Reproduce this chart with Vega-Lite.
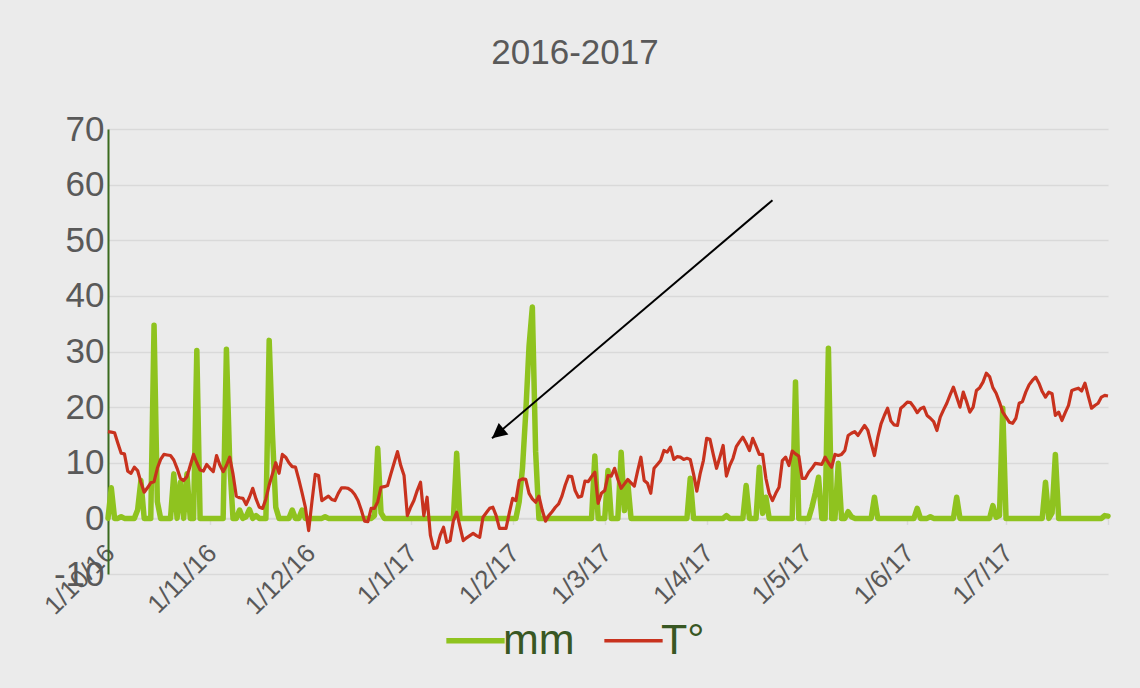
{
"$schema":"https://vega.github.io/schema/vega-lite/v6.json",
"width":1000,"height":445,"autosize":"none",
"padding":{"left":108,"top":129,"right":32,"bottom":114},
"background":"#EBEBEB",
"title":{"text":"2016-2017","font":"Liberation Sans","fontSize":35,"fontWeight":"normal","color":"#595959","anchor":"middle","frame":"group","dx":-33,"offset":6,"baseline":"bottom"},
"config":{"view":{"stroke":null}},
"datasets":{
"daily":[
{"d":"2016-10-01","mm":0,"T":15.6},{"d":"2016-10-02","mm":5.5,"T":15.5},{"d":"2016-10-03","mm":0,"T":15.4},{"d":"2016-10-04","mm":0,"T":13.5},{"d":"2016-10-05","mm":0.3,"T":11.7},{"d":"2016-10-06","mm":0,"T":11.6},{"d":"2016-10-07","mm":0,"T":8.5},{"d":"2016-10-08","mm":0,"T":8.1},{"d":"2016-10-09","mm":0,"T":9.2},{"d":"2016-10-10","mm":1.5,"T":8.6},{"d":"2016-10-11","mm":6.8,"T":6.5},{"d":"2016-10-12","mm":0,"T":4.7},{"d":"2016-10-13","mm":0,"T":5.5},{"d":"2016-10-14","mm":0,"T":6.4},{"d":"2016-10-15","mm":34.7,"T":6.6},{"d":"2016-10-16","mm":3,"T":9},{"d":"2016-10-17","mm":0,"T":10.6},{"d":"2016-10-18","mm":0,"T":11.5},{"d":"2016-10-19","mm":0,"T":11.4},{"d":"2016-10-20","mm":0,"T":11.3},{"d":"2016-10-21","mm":8,"T":10.5},{"d":"2016-10-22","mm":0,"T":9},{"d":"2016-10-23","mm":6.5,"T":7.2},{"d":"2016-10-24","mm":0,"T":6.8},{"d":"2016-10-25","mm":8,"T":7.5},{"d":"2016-10-26","mm":0,"T":9.5},{"d":"2016-10-27","mm":0,"T":11.5},{"d":"2016-10-28","mm":30.2,"T":10},{"d":"2016-10-29","mm":0,"T":8.7},{"d":"2016-10-30","mm":0,"T":8.5},{"d":"2016-10-31","mm":0,"T":9.7},
{"d":"2016-11-01","mm":0,"T":9},{"d":"2016-11-02","mm":0,"T":8.4},{"d":"2016-11-03","mm":0,"T":11.3},{"d":"2016-11-04","mm":0,"T":9.6},{"d":"2016-11-05","mm":0,"T":8.4},{"d":"2016-11-06","mm":30.4,"T":9.5},{"d":"2016-11-07","mm":10,"T":11},{"d":"2016-11-08","mm":0,"T":8},{"d":"2016-11-09","mm":0,"T":4},{"d":"2016-11-10","mm":1.5,"T":3.7},{"d":"2016-11-11","mm":0,"T":3.6},{"d":"2016-11-12","mm":0.3,"T":2.5},{"d":"2016-11-13","mm":1.6,"T":3.8},{"d":"2016-11-14","mm":0,"T":5.4},{"d":"2016-11-15","mm":0.5,"T":3.5},{"d":"2016-11-16","mm":0,"T":2},{"d":"2016-11-17","mm":0,"T":1.8},{"d":"2016-11-18","mm":0,"T":3.5},{"d":"2016-11-19","mm":32,"T":6},{"d":"2016-11-20","mm":15,"T":8},{"d":"2016-11-21","mm":2,"T":10},{"d":"2016-11-22","mm":0,"T":8.1},{"d":"2016-11-23","mm":0,"T":11.5},{"d":"2016-11-24","mm":0,"T":11},{"d":"2016-11-25","mm":0,"T":10},{"d":"2016-11-26","mm":1.5,"T":9.3},{"d":"2016-11-27","mm":0,"T":9.2},{"d":"2016-11-28","mm":0,"T":7},{"d":"2016-11-29","mm":1.5,"T":4.6},{"d":"2016-11-30","mm":0,"T":2},
{"d":"2016-12-01","mm":0,"T":-2.2},{"d":"2016-12-02","mm":0,"T":3},{"d":"2016-12-03","mm":0,"T":7.9},{"d":"2016-12-04","mm":0,"T":7.7},{"d":"2016-12-05","mm":0,"T":3.2},{"d":"2016-12-06","mm":0.3,"T":3.6},{"d":"2016-12-07","mm":0,"T":4},{"d":"2016-12-08","mm":0,"T":3.4},{"d":"2016-12-09","mm":0,"T":3.2},{"d":"2016-12-10","mm":0,"T":4.5},{"d":"2016-12-11","mm":0,"T":5.5},{"d":"2016-12-12","mm":0,"T":5.5},{"d":"2016-12-13","mm":0,"T":5.4},{"d":"2016-12-14","mm":0,"T":5},{"d":"2016-12-15","mm":0,"T":4.3},{"d":"2016-12-16","mm":0,"T":3.2},{"d":"2016-12-17","mm":0,"T":1.5},{"d":"2016-12-18","mm":0,"T":-0.5},{"d":"2016-12-19","mm":0,"T":-0.6},{"d":"2016-12-20","mm":0,"T":1.8},{"d":"2016-12-21","mm":0.5,"T":1.8},{"d":"2016-12-22","mm":12.6,"T":3},{"d":"2016-12-23","mm":1,"T":5.6},{"d":"2016-12-24","mm":0,"T":5.7},{"d":"2016-12-25","mm":0,"T":5.9},{"d":"2016-12-26","mm":0,"T":8},{"d":"2016-12-27","mm":0,"T":10},{"d":"2016-12-28","mm":0,"T":12},{"d":"2016-12-29","mm":0,"T":9.5},{"d":"2016-12-30","mm":0,"T":7.7},{"d":"2016-12-31","mm":0,"T":0.5},
{"d":"2017-01-01","mm":0,"T":2},{"d":"2017-01-02","mm":0,"T":3.2},{"d":"2017-01-03","mm":0,"T":5},{"d":"2017-01-04","mm":0,"T":6.5},{"d":"2017-01-05","mm":0,"T":0.5},{"d":"2017-01-06","mm":0,"T":3.8},{"d":"2017-01-07","mm":0,"T":-3},{"d":"2017-01-08","mm":0,"T":-5.4},{"d":"2017-01-09","mm":0,"T":-5.3},{"d":"2017-01-10","mm":0,"T":-3},{"d":"2017-01-11","mm":0,"T":-1.6},{"d":"2017-01-12","mm":0,"T":-4.3},{"d":"2017-01-13","mm":0,"T":-4},{"d":"2017-01-14","mm":0,"T":-0.4},{"d":"2017-01-15","mm":11.7,"T":1.1},{"d":"2017-01-16","mm":0,"T":-1.5},{"d":"2017-01-17","mm":0,"T":-4},{"d":"2017-01-18","mm":0,"T":-3.5},{"d":"2017-01-19","mm":0,"T":-3.1},{"d":"2017-01-20","mm":0,"T":-2.7},{"d":"2017-01-21","mm":0,"T":-3.1},{"d":"2017-01-22","mm":0,"T":-3.4},{"d":"2017-01-23","mm":0,"T":0.2},{"d":"2017-01-24","mm":0,"T":1},{"d":"2017-01-25","mm":0,"T":1.8},{"d":"2017-01-26","mm":0,"T":2},{"d":"2017-01-27","mm":0,"T":0.5},{"d":"2017-01-28","mm":0,"T":-1.8},{"d":"2017-01-29","mm":0,"T":-1.8},{"d":"2017-01-30","mm":0,"T":-1.8},{"d":"2017-01-31","mm":0,"T":1},
{"d":"2017-02-01","mm":0,"T":3.6},{"d":"2017-02-02","mm":0,"T":3.2},{"d":"2017-02-03","mm":3,"T":6.8},{"d":"2017-02-04","mm":9,"T":7.1},{"d":"2017-02-05","mm":19,"T":7},{"d":"2017-02-06","mm":31,"T":4.5},{"d":"2017-02-07","mm":38,"T":3.5},{"d":"2017-02-08","mm":12,"T":2.9},{"d":"2017-02-09","mm":0,"T":4},{"d":"2017-02-10","mm":0,"T":1.5},{"d":"2017-02-11","mm":0,"T":-0.5},{"d":"2017-02-12","mm":0,"T":0.5},{"d":"2017-02-13","mm":0,"T":1.2},{"d":"2017-02-14","mm":0,"T":2},{"d":"2017-02-15","mm":0,"T":2.6},{"d":"2017-02-16","mm":0,"T":4},{"d":"2017-02-17","mm":0,"T":6},{"d":"2017-02-18","mm":0,"T":7.6},{"d":"2017-02-19","mm":0,"T":7.5},{"d":"2017-02-20","mm":0,"T":5},{"d":"2017-02-21","mm":0,"T":3.8},{"d":"2017-02-22","mm":0,"T":4},{"d":"2017-02-23","mm":0,"T":6.7},{"d":"2017-02-24","mm":0,"T":6.6},{"d":"2017-02-25","mm":0,"T":7.5},{"d":"2017-02-26","mm":11.2,"T":8.3},{"d":"2017-02-27","mm":0,"T":2.7},{"d":"2017-02-28","mm":0,"T":4.5},
{"d":"2017-03-01","mm":0,"T":5},{"d":"2017-03-02","mm":8.6,"T":7.7},{"d":"2017-03-03","mm":0,"T":7.6},{"d":"2017-03-04","mm":0,"T":9},{"d":"2017-03-05","mm":0,"T":7},{"d":"2017-03-06","mm":11.9,"T":5.4},{"d":"2017-03-07","mm":1.4,"T":6.2},{"d":"2017-03-08","mm":6.5,"T":7},{"d":"2017-03-09","mm":0,"T":6.4},{"d":"2017-03-10","mm":0,"T":5.8},{"d":"2017-03-11","mm":0,"T":8.5},{"d":"2017-03-12","mm":0,"T":11},{"d":"2017-03-13","mm":0,"T":6.8},{"d":"2017-03-14","mm":0,"T":6.3},{"d":"2017-03-15","mm":0,"T":4.5},{"d":"2017-03-16","mm":0,"T":9},{"d":"2017-03-17","mm":0,"T":9.7},{"d":"2017-03-18","mm":0,"T":10.4},{"d":"2017-03-19","mm":0,"T":12.2},{"d":"2017-03-20","mm":0,"T":11.9},{"d":"2017-03-21","mm":0,"T":12.8},{"d":"2017-03-22","mm":0,"T":10.6},{"d":"2017-03-23","mm":0,"T":11.1},{"d":"2017-03-24","mm":0,"T":11},{"d":"2017-03-25","mm":0,"T":10.6},{"d":"2017-03-26","mm":0,"T":10.8},{"d":"2017-03-27","mm":7.2,"T":10.6},{"d":"2017-03-28","mm":0,"T":8},{"d":"2017-03-29","mm":0,"T":4.9},{"d":"2017-03-30","mm":0,"T":8},{"d":"2017-03-31","mm":0,"T":10.4},
{"d":"2017-04-01","mm":0,"T":14.4},{"d":"2017-04-02","mm":0,"T":14.2},{"d":"2017-04-03","mm":0,"T":11.5},{"d":"2017-04-04","mm":0,"T":9},{"d":"2017-04-05","mm":0,"T":11},{"d":"2017-04-06","mm":0,"T":13.1},{"d":"2017-04-07","mm":0.5,"T":7.6},{"d":"2017-04-08","mm":0,"T":9.5},{"d":"2017-04-09","mm":0,"T":10.8},{"d":"2017-04-10","mm":0,"T":12.9},{"d":"2017-04-11","mm":0,"T":13.8},{"d":"2017-04-12","mm":0,"T":14.6},{"d":"2017-04-13","mm":5.9,"T":13.5},{"d":"2017-04-14","mm":0,"T":12.2},{"d":"2017-04-15","mm":0,"T":14.4},{"d":"2017-04-16","mm":0,"T":13},{"d":"2017-04-17","mm":9.2,"T":11.5},{"d":"2017-04-18","mm":0.9,"T":11.5},{"d":"2017-04-19","mm":3.8,"T":7.2},{"d":"2017-04-20","mm":0,"T":4.5},{"d":"2017-04-21","mm":0,"T":3.2},{"d":"2017-04-22","mm":0,"T":4.5},{"d":"2017-04-23","mm":0,"T":5.6},{"d":"2017-04-24","mm":0,"T":10.4},{"d":"2017-04-25","mm":0,"T":11},{"d":"2017-04-26","mm":0,"T":9.5},{"d":"2017-04-27","mm":0,"T":12.1},{"d":"2017-04-28","mm":24.5,"T":11.6},{"d":"2017-04-29","mm":0,"T":11.2},{"d":"2017-04-30","mm":0,"T":7.2},
{"d":"2017-05-01","mm":0,"T":7.2},{"d":"2017-05-02","mm":0,"T":8.3},{"d":"2017-05-03","mm":2,"T":9},{"d":"2017-05-04","mm":4.5,"T":9.9},{"d":"2017-05-05","mm":7.4,"T":9.8},{"d":"2017-05-06","mm":0,"T":9.7},{"d":"2017-05-07","mm":0,"T":11},{"d":"2017-05-08","mm":30.6,"T":10},{"d":"2017-05-09","mm":0,"T":9.2},{"d":"2017-05-10","mm":0,"T":11.5},{"d":"2017-05-11","mm":9.9,"T":11.3},{"d":"2017-05-12","mm":0,"T":11.5},{"d":"2017-05-13","mm":0,"T":12.2},{"d":"2017-05-14","mm":1.2,"T":14.9},{"d":"2017-05-15","mm":0.3,"T":15.3},{"d":"2017-05-16","mm":0,"T":15.6},{"d":"2017-05-17","mm":0,"T":14.9},{"d":"2017-05-18","mm":0,"T":15.8},{"d":"2017-05-19","mm":0,"T":16.7},{"d":"2017-05-20","mm":0,"T":15.8},{"d":"2017-05-21","mm":0,"T":13.5},{"d":"2017-05-22","mm":3.8,"T":11.3},{"d":"2017-05-23","mm":0,"T":14.5},{"d":"2017-05-24","mm":0,"T":17},{"d":"2017-05-25","mm":0,"T":18.5},{"d":"2017-05-26","mm":0,"T":19.8},{"d":"2017-05-27","mm":0,"T":17.5},{"d":"2017-05-28","mm":0,"T":16.8},{"d":"2017-05-29","mm":0,"T":16.7},{"d":"2017-05-30","mm":0,"T":19.8},{"d":"2017-05-31","mm":0,"T":20.3},
{"d":"2017-06-01","mm":0,"T":20.9},{"d":"2017-06-02","mm":0,"T":20.8},{"d":"2017-06-03","mm":0,"T":20},{"d":"2017-06-04","mm":1.8,"T":19},{"d":"2017-06-05","mm":0,"T":19.7},{"d":"2017-06-06","mm":0,"T":20},{"d":"2017-06-07","mm":0,"T":18.5},{"d":"2017-06-08","mm":0.3,"T":18},{"d":"2017-06-09","mm":0,"T":17.4},{"d":"2017-06-10","mm":0,"T":15.8},{"d":"2017-06-11","mm":0,"T":18.2},{"d":"2017-06-12","mm":0,"T":19.5},{"d":"2017-06-13","mm":0,"T":20.7},{"d":"2017-06-14","mm":0,"T":22.2},{"d":"2017-06-15","mm":0,"T":23.6},{"d":"2017-06-16","mm":3.8,"T":21.8},{"d":"2017-06-17","mm":0,"T":20},{"d":"2017-06-18","mm":0,"T":22.7},{"d":"2017-06-19","mm":0,"T":21},{"d":"2017-06-20","mm":0,"T":19.1},{"d":"2017-06-21","mm":0,"T":20},{"d":"2017-06-22","mm":0,"T":23},{"d":"2017-06-23","mm":0,"T":23.5},{"d":"2017-06-24","mm":0,"T":24.5},{"d":"2017-06-25","mm":0,"T":26.1},{"d":"2017-06-26","mm":0,"T":25.5},{"d":"2017-06-27","mm":2.3,"T":23.5},{"d":"2017-06-28","mm":0.2,"T":22.5},{"d":"2017-06-29","mm":0.5,"T":20.9},{"d":"2017-06-30","mm":19.8,"T":19.1},
{"d":"2017-07-01","mm":0,"T":18.2},{"d":"2017-07-02","mm":0,"T":17.3},{"d":"2017-07-03","mm":0,"T":17.1},{"d":"2017-07-04","mm":0,"T":18},{"d":"2017-07-05","mm":0,"T":20.7},{"d":"2017-07-06","mm":0,"T":21},{"d":"2017-07-07","mm":0,"T":22.7},{"d":"2017-07-08","mm":0,"T":24},{"d":"2017-07-09","mm":0,"T":24.8},{"d":"2017-07-10","mm":0,"T":25.4},{"d":"2017-07-11","mm":0,"T":24.3},{"d":"2017-07-12","mm":0,"T":22.8},{"d":"2017-07-13","mm":6.5,"T":21.8},{"d":"2017-07-14","mm":0,"T":22.7},{"d":"2017-07-15","mm":1,"T":22.4},{"d":"2017-07-16","mm":11.5,"T":18.5},{"d":"2017-07-17","mm":0,"T":19.1},{"d":"2017-07-18","mm":0,"T":17.6},{"d":"2017-07-19","mm":0,"T":19},{"d":"2017-07-20","mm":0,"T":20.3},{"d":"2017-07-21","mm":0,"T":23},{"d":"2017-07-22","mm":0,"T":23.2},{"d":"2017-07-23","mm":0,"T":23.4},{"d":"2017-07-24","mm":0,"T":22.9},{"d":"2017-07-25","mm":0,"T":24.3},{"d":"2017-07-26","mm":0,"T":22},{"d":"2017-07-27","mm":0,"T":19.8},{"d":"2017-07-28","mm":0,"T":20.3},{"d":"2017-07-29","mm":0,"T":20.7},{"d":"2017-07-30","mm":0,"T":21.8},{"d":"2017-07-31","mm":0.5,"T":22.1},{"d":"2017-08-01","mm":0.4,"T":22}
],
"arrow":[{"d":"2017-04-21T00:00:00Z","v":57.2},{"d":"2017-01-25T18:00:00Z","v":14.4}],
"head":[{"d":"2017-01-25T18:00:00Z","v":14.4}]
},
"encoding":{
"x":{"field":"d","type":"temporal","title":null,
"scale":{"type":"utc","domain":[{"year":2016,"month":10,"date":1,"utc":true},{"year":2017,"month":8,"date":1,"utc":true}]},
"axis":{"offset":-55.6,"values":[{"year":2016,"month":10,"date":1,"utc":true},{"year":2016,"month":11,"date":1,"utc":true},{"year":2016,"month":12,"date":1,"utc":true},{"year":2017,"month":1,"date":1,"utc":true},{"year":2017,"month":2,"date":1,"utc":true},{"year":2017,"month":3,"date":1,"utc":true},{"year":2017,"month":4,"date":1,"utc":true},{"year":2017,"month":5,"date":1,"utc":true},{"year":2017,"month":6,"date":1,"utc":true},{"year":2017,"month":7,"date":1,"utc":true},{"year":2017,"month":8,"date":1,"utc":true}],
"format":"%-d/%-m/%y","labelExpr":"utcmonth(datum.value) == 7 ? '' : datum.label",
"labelAngle":-45,"labelFont":"Liberation Sans","labelFontSize":26,"labelColor":"#595959","labelPadding":15,"labelOffset":-7,"labelOverlap":false,"labelFlush":false,"labelBound":false,
"tickColor":"#D9D9D9","tickSize":6,"tickWidth":1.5,"domainColor":"#D9D9D9","domainWidth":1.5,"grid":false}}
},
"layer":[
{"data":{"name":"daily"},"mark":{"type":"line","strokeWidth":5.5,"strokeJoin":"round","strokeCap":"round"},
"encoding":{"y":{"field":"mm","type":"quantitative","title":null,"scale":{"domain":[-10,70],"nice":false,"zero":false},
"axis":{"values":[-10,0,10,20,30,40,50,60,70],"labelExpr":"datum.value < 0 ? '-' + abs(datum.value) : datum.label","labelFont":"Liberation Sans","labelFontSize":35,"labelColor":"#595959","ticks":false,"labelPadding":4,"domainColor":"#3B6B1E","domainWidth":2,"gridColor":"#D9D9D9","gridWidth":1.5,"labelFlush":false,"labelOverlap":false}},
"color":{"datum":"mm","type":"nominal","scale":{"domain":["mm","T°"],"range":["#8FC31F","#C8321E"]},
"legend":{"orient":"none","legendX":346,"legendY":490,"direction":"horizontal","title":null,"symbolType":"stroke","symbolSize":3400,"symbolStrokeWidth":5,"labelFont":"Liberation Sans","labelFontSize":43,"labelColor":"#385723","labelOffset":6,"columnPadding":22,"padding":0,
"encode":{"symbols":{"update":{"strokeWidth":{"signal":"datum.value === 'mm' ? 5.5 : 3.5"}}}}}}}},
{"data":{"name":"daily"},"mark":{"type":"line","strokeWidth":3.2,"strokeJoin":"round"},
"encoding":{"y":{"field":"T","type":"quantitative","title":null},"color":{"datum":"T°","type":"nominal"}}},
{"data":{"name":"arrow"},"mark":{"type":"line","color":"black","strokeWidth":2},
"encoding":{"y":{"field":"v","type":"quantitative","title":null}}},
{"data":{"name":"head"},"mark":{"type":"point","shape":"M0,0 L0.5,1 L-0.5,1 Z","size":900,"angle":230,"filled":true,"color":"black","opacity":1,"strokeWidth":0},
"encoding":{"y":{"field":"v","type":"quantitative","title":null}}}
]
}
